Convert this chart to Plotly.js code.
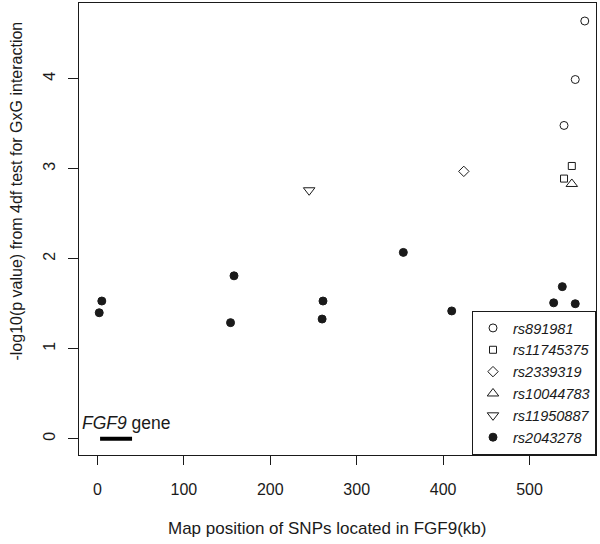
<!DOCTYPE html>
<html>
<head>
<meta charset="utf-8">
<script src="https://cdn.plot.ly/plotly-3.0.1.min.js"></script>
<style>html,body{margin:0;padding:0;background:#fff;}#chart{width:600px;height:544px;}</style>
</head>
<body>
<div id="chart"></div>
<script>
// SNP positions (kb) and -log10(p) values
const snpNames = ["rs891981", "rs11745375", "rs2339319", "rs10044783", "rs11950887", "rs2043278"];
const rs891981_x = [564, 553, 540];
const rs891981_y = [4.64, 3.99, 3.48];
const rs11745375_x = [549, 540];
const rs11745375_y = [3.03, 2.89];
const rs2339319_x = [424];
const rs2339319_y = [2.97];
const rs10044783_x = [549];
const rs10044783_y = [2.83];
const rs11950887_x = [245];
const rs11950887_y = [2.76];
const rs2043278_x = [2, 5, 154, 158, 260, 261, 354, 410, 528, 538, 553];
const rs2043278_y = [1.40, 1.53, 1.29, 1.81, 1.33, 1.53, 2.07, 1.42, 1.51, 1.69, 1.50];
const geneX = [3, 40];
const geneY = [0, 0];
const xTicks = [0, 100, 200, 300, 400, 500];
const yTicks = [0, 1, 2, 3, 4];

const font = "Liberation Sans, Arial, sans-serif";
const ink = "#1a1a1a";

const seriesX = [rs891981_x, rs11745375_x, rs2339319_x, rs10044783_x, rs11950887_x, rs2043278_x];
const seriesY = [rs891981_y, rs11745375_y, rs2339319_y, rs10044783_y, rs11950887_y, rs2043278_y];
const symbols = ["circle-open", "square-open", "diamond-open", "triangle-up-open", "triangle-down-open", "circle"];
const sizes = [8, 7, 8, 10, 10, 8];

const traces = snpNames.map((n, i) => ({
  type: "scatter", mode: "markers", name: n,
  x: seriesX[i], y: seriesY[i],
  marker: {symbol: symbols[i], size: sizes[i], color: ink, line: {color: ink, width: 1}}
}));
traces.push({
  type: "scatter", mode: "lines", x: geneX, y: geneY, showlegend: false,
  line: {color: "#000", width: 4}, hoverinfo: "skip"
});

const layout = {
  width: 600, height: 544,
  margin: {l: 79, r: 4, t: 3, b: 89},
  paper_bgcolor: "#fff", plot_bgcolor: "#fff",
  font: {family: font, size: 16, color: ink},
  showlegend: true,
  legend: {
    x: 1, xanchor: "right", y: 0, yanchor: "bottom",
    bordercolor: ink, borderwidth: 1, bgcolor: "#fff",
    font: {family: font, size: 14.5, color: ink, style: "italic"},
    tracegroupgap: 0
  },
  xaxis: {
    range: [-21.4, 577], tickvals: xTicks, ticktext: xTicks.map(String),
    showgrid: false, zeroline: false, showline: true, mirror: true,
    linecolor: ink, linewidth: 1, ticks: "outside", ticklen: 9, tickcolor: ink,
    tickfont: {family: font, size: 16, color: ink}, ticklabelstandoff: 11
  },
  yaxis: {
    range: [-0.18, 4.84], tickvals: yTicks, ticktext: yTicks.map(String),
    showgrid: false, zeroline: false, showline: true, mirror: true,
    linecolor: ink, linewidth: 1, ticks: "outside", ticklen: 10, tickcolor: ink,
    tickangle: -90, tickfont: {family: font, size: 16, color: ink}, ticklabelstandoff: 7
  },
  annotations: [
    {text: "Map position of SNPs located in FGF9(kb)", xref: "paper", yref: "paper",
     x: 0.4797, y: -0.1637, xanchor: "center", yanchor: "middle", showarrow: false,
     font: {family: font, size: 17, color: ink}},
    {text: "-log10(p value) from 4df test for GxG interaction", xref: "paper", yref: "paper",
     x: -0.12, y: 0.585, xanchor: "center", yanchor: "middle", textangle: -90, showarrow: false,
     font: {family: font, size: 16, color: ink}},
    {text: "<i>FGF9</i> gene", xref: "x", yref: "y", x: 34, y: 0.18,
     xanchor: "center", yanchor: "middle", showarrow: false,
     font: {family: font, size: 17.5, color: ink}}
  ]
};

Plotly.newPlot("chart", traces, layout, {staticPlot: true, displayModeBar: false});
</script>
</body>
</html>
